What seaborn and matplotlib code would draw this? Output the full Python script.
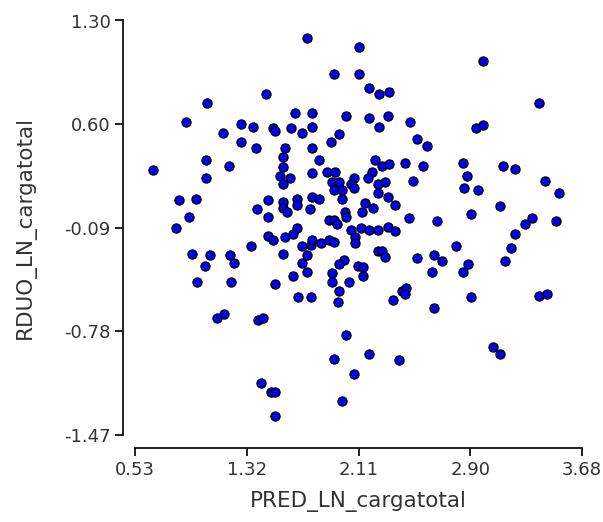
import numpy as np
import matplotlib
matplotlib.use("Agg")
import matplotlib.pyplot as plt
import seaborn as sns
import pandas as pd

# ===============================
# Data
# ===============================
pred_ln = [
    1.74, 1.93, 2.11, 2.11, 1.45, 1.04, 2.98, 3.38, 0.89, 1.15,
    1.28, 1.36, 1.50, 1.52, 1.63, 1.66, 1.78, 1.78, 1.71, 2.02,
    1.97, 1.91, 2.18, 2.25, 2.32, 2.18, 2.31, 2.25, 2.47, 2.52,
    2.59, 2.93, 2.98, 1.28, 1.38, 1.59, 1.78, 1.83, 1.57, 1.57,
    1.55, 1.62, 1.57, 1.78, 0.66, 1.03, 1.03, 1.19, 0.84, 0.96,
    0.91, 0.82, 1.47, 1.39, 1.47, 1.57, 1.57, 1.60, 1.67, 1.67,
    1.76, 1.78, 1.83, 1.90, 1.67, 1.88, 1.94, 1.92, 1.97, 1.93,
    1.99, 1.99, 2.07, 2.05, 2.07, 2.22, 2.27, 2.32, 2.20, 2.17,
    2.24, 2.29, 2.43, 2.56, 2.49, 2.24, 2.31, 2.36, 2.15, 2.21,
    2.13, 2.01, 2.02, 1.93, 1.95, 2.46, 2.66, 2.05, 2.12, 2.18,
    2.24, 2.31, 2.36, 2.08, 2.08, 2.84, 2.87, 2.85, 2.95, 3.12,
    3.21, 3.42, 3.52, 2.90, 3.10, 3.33, 3.28, 3.50, 3.21, 3.18,
    3.14, 2.24, 2.27, 2.29, 2.52, 2.64, 2.69, 2.79, 2.62, 2.88,
    2.84, 2.00, 1.97, 2.10, 2.14, 2.14, 1.92, 1.92, 2.04, 1.97,
    1.96, 2.41, 2.44, 2.43, 2.35, 2.64, 2.90, 3.38, 3.43, 2.02,
    2.18, 2.39, 2.07, 1.99, 3.05, 3.10, 0.93, 1.06, 1.02, 0.97,
    1.20, 1.23, 1.21, 1.35, 1.47, 1.50, 1.59, 1.64, 1.57, 1.52,
    1.64, 1.68, 1.77, 1.71, 1.77, 1.78, 1.84, 1.90, 1.93, 1.74,
    1.71, 1.74, 1.11, 1.16, 1.40, 1.43, 1.93, 1.42, 1.49, 1.52,
    1.52,
]
rduo_ln = [
    1.18, 0.94, 1.12, 0.94, 0.81, 0.75, 1.03, 0.75, 0.62, 0.55,
    0.61, 0.59, 0.58, 0.56, 0.58, 0.68, 0.68, 0.59, 0.55, 0.66,
    0.54, 0.49, 0.85, 0.81, 0.82, 0.65, 0.66, 0.59, 0.62, 0.51,
    0.46, 0.58, 0.60, 0.49, 0.45, 0.45, 0.45, 0.37, 0.39, 0.32,
    0.26, 0.25, 0.21, 0.28, 0.30, 0.37, 0.25, 0.33, 0.10, 0.11,
    -0.01, -0.09, 0.10, 0.04, -0.01, 0.09, 0.05, 0.02, 0.11, 0.07,
    0.04, 0.12, 0.11, -0.03, -0.09, 0.29, 0.29, 0.22, 0.22, 0.17,
    0.17, 0.11, 0.25, 0.21, 0.18, 0.37, 0.33, 0.34, 0.29, 0.25,
    0.21, 0.22, 0.35, 0.33, 0.23, 0.15, 0.12, 0.07, 0.08, 0.05,
    0.02, 0.02, -0.01, -0.03, -0.06, -0.02, -0.04, -0.10, -0.09, -0.10,
    -0.10, -0.08, -0.11, -0.15, -0.19, 0.35, 0.26, 0.18, 0.17, 0.33,
    0.31, 0.23, 0.15, 0.01, 0.06, -0.02, -0.06, -0.04, -0.13, -0.22,
    -0.31, -0.24, -0.24, -0.28, -0.29, -0.27, -0.31, -0.21, -0.38, -0.33,
    -0.38, -0.30, -0.33, -0.34, -0.35, -0.41, -0.39, -0.45, -0.45, -0.51,
    -0.58, -0.51, -0.49, -0.53, -0.57, -0.62, -0.55, -0.54, -0.53, -0.80,
    -0.93, -0.97, -1.06, -1.24, -0.88, -0.93, -0.26, -0.27, -0.34, -0.45,
    -0.27, -0.32, -0.45, -0.21, -0.14, -0.17, -0.15, -0.13, -0.26, -0.46,
    -0.41, -0.55, -0.55, -0.21, -0.20, -0.17, -0.19, -0.17, -0.18, -0.27,
    -0.32, -0.38, -0.69, -0.66, -0.70, -0.69, -0.96, -1.12, -1.18, -1.18,
    -1.34,
]

x_ticklabels = ["0.53", "1.32", "2.11", "2.90", "3.68"]
y_ticklabels = ["-1.47", "-0.78", "-0.09", "0.60", "1.30"]

df = pd.DataFrame({"PRED_LN_cargatotal": pred_ln, "RDUO_LN_cargatotal": rduo_ln})

# ===============================
# Plot
# ===============================
sns.set_style("ticks")
plt.rcParams["font.family"] = ["DejaVu Sans"]

fig = plt.figure(figsize=(6.03, 5.22), dpi=100)
ax = fig.add_axes([135 / 603, 87 / 522, 447 / 603, 414.5 / 522])

sns.scatterplot(data=df, x="PRED_LN_cargatotal", y="RDUO_LN_cargatotal", ax=ax,
                color="#0000ff", edgecolor="black", linewidth=1.0, s=42, zorder=3)

x_min, x_max = float(x_ticklabels[0]), float(x_ticklabels[-1])
y_min, y_max = float(y_ticklabels[0]), float(y_ticklabels[-1])
ax.set_xlim(x_min, x_max)
ax.set_ylim(y_min, y_max)
ax.set_xticks(np.linspace(x_min, x_max, len(x_ticklabels)))
ax.set_xticklabels(x_ticklabels)
ax.set_yticks(np.linspace(y_min, y_max, len(y_ticklabels)))
ax.set_yticklabels(y_ticklabels)

sns.despine(ax=ax)
ax.spines["left"].set_position(("outward", 8.6))
ax.spines["bottom"].set_position(("outward", 9.4))
for side in ["left", "bottom"]:
    ax.spines[side].set_linewidth(1.3)
    ax.spines[side].set_color("#111111")

ax.tick_params(axis="both", direction="out", length=6, width=1.3, color="#111111",
               labelsize=13, labelcolor="#333333", pad=3)

ax.set_xlabel("PRED_LN_cargatotal", fontsize=15.5, color="#333333", labelpad=9)
ax.set_ylabel("RDUO_LN_cargatotal", fontsize=15.5, color="#333333", labelpad=20)

plt.savefig("out.png", dpi=100)
